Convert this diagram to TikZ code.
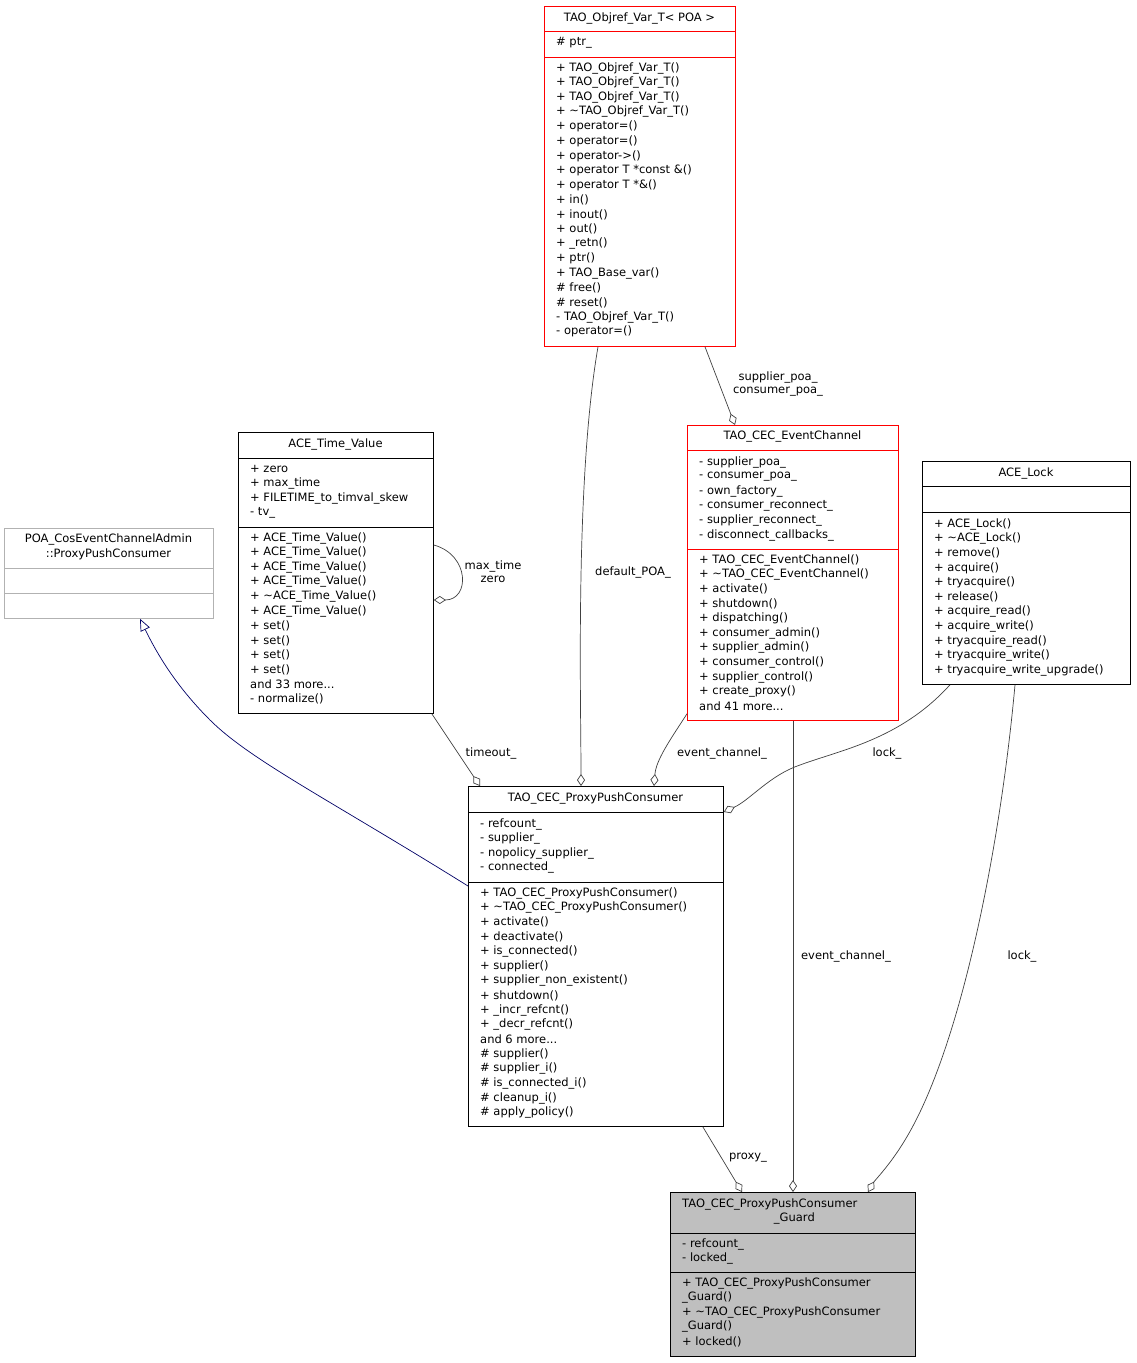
\documentclass[tikz,border=0pt]{standalone}
\usepackage{fontspec}
\setmainfont{DejaVu Sans}
\usetikzlibrary{arrows.meta,calc}
\newcommand\ddd{...}
\begin{document}
\begin{tikzpicture}[x=1pt,y=-1pt,
  txt/.style={anchor=west,inner sep=0,font=\fontsize{11.5}{13}\selectfont},
  ttl/.style={anchor=center,inner sep=0,font=\fontsize{11.5}{13}\selectfont},
  box/.style={draw,inner sep=0,anchor=north west,line width=0.8pt},
  lbl/.style={inner sep=0,font=\fontsize{11.5}{13}\selectfont,align=center},
  agg/.style={draw=black!75,line width=0.7pt,-{Diamond[open,length=12pt,width=8pt]}},
  inh/.style={draw=blue!40!black,line width=0.7pt,-{Triangle[open,length=12pt,width=10pt]}}]
\useasboundingbox (0,0) rectangle (1136,1363);
\newcommand\lns[3]{\foreach \t [count=\i from 0] in {#3} \node[txt] at (#1,#2+\i*14.65) {\t};}

% TAO_Objref_Var_T
\node[box,draw=red,minimum width=191pt,minimum height=340pt] (obj) at (544,6) {};
\draw[red,line width=0.8pt] (544,31)--(735,31) (544,57)--(735,57);
\node[ttl] at (639.5,18) {TAO\_Objref\_Var\_T< POA >};
\lns{556}{43}{\# ptr\_}
\lns{556}{68}{+ TAO\_Objref\_Var\_T(),+ TAO\_Objref\_Var\_T(),+ TAO\_Objref\_Var\_T(),+ \textasciitilde TAO\_Objref\_Var\_T(),+ operator=(),+ operator=(),+ operator->(),+ operator T *const \&(),+ operator T *\&(),+ in(),+ inout(),+ out(),+ \_retn(),+ ptr(),+ TAO\_Base\_var(),\# free(),\# reset(),- TAO\_Objref\_Var\_T(),- operator=()}

% ACE_Time_Value
\node[box,minimum width=195pt,minimum height=281pt] (tv) at (238,432) {};
\draw[line width=0.8pt] (238,458)--(433,458) (238,527)--(433,527);
\node[ttl] at (335.5,444) {ACE\_Time\_Value};
\lns{250}{469}{+ zero,+ max\_time,+ FILETIME\_to\_timval\_skew,- tv\_}
\lns{250}{538}{+ ACE\_Time\_Value(),+ ACE\_Time\_Value(),+ ACE\_Time\_Value(),+ ACE\_Time\_Value(),+ \textasciitilde ACE\_Time\_Value(),+ ACE\_Time\_Value(),+ set(),+ set(),+ set(),+ set(),and 33 more\ddd,- normalize()}

% POA
\node[box,draw=black!30,minimum width=209pt,minimum height=90pt] (poa) at (4,528) {};
\draw[black!30,line width=0.8pt] (4,568)--(213,568) (4,593)--(213,593);
\node[ttl] at (108.5,539) {POA\_CosEventChannelAdmin};
\node[ttl] at (108.5,554) {::ProxyPushConsumer};

% TAO_CEC_EventChannel
\node[box,draw=red,minimum width=211pt,minimum height=295pt] (ec) at (687,425) {};
\draw[red,line width=0.8pt] (687,450)--(898,450) (687,549)--(898,549);
\node[ttl] at (792.5,436) {TAO\_CEC\_EventChannel};
\lns{699}{462}{- supplier\_poa\_,- consumer\_poa\_,- own\_factory\_,- consumer\_reconnect\_,- supplier\_reconnect\_,- disconnect\_callbacks\_}
\lns{699}{560}{+ TAO\_CEC\_EventChannel(),+ \textasciitilde TAO\_CEC\_EventChannel(),+ activate(),+ shutdown(),+ dispatching(),+ consumer\_admin(),+ supplier\_admin(),+ consumer\_control(),+ supplier\_control(),+ create\_proxy(),and 41 more\ddd}

% ACE_Lock
\node[box,minimum width=208pt,minimum height=223pt] (lock) at (922,461) {};
\draw[line width=0.8pt] (922,486)--(1130,486) (922,512)--(1130,512);
\node[ttl] at (1026,473) {ACE\_Lock};
\lns{934}{524}{+ ACE\_Lock(),+ \textasciitilde ACE\_Lock(),+ remove(),+ acquire(),+ tryacquire(),+ release(),+ acquire\_read(),+ acquire\_write(),+ tryacquire\_read(),+ tryacquire\_write(),+ tryacquire\_write\_upgrade()}

% TAO_CEC_ProxyPushConsumer
\node[box,minimum width=255pt,minimum height=340pt] (ppc) at (468,786) {};
\draw[line width=0.8pt] (468,812)--(723,812) (468,882)--(723,882);
\node[ttl] at (595.5,798) {TAO\_CEC\_ProxyPushConsumer};
\lns{480}{824}{- refcount\_,- supplier\_,- nopolicy\_supplier\_,- connected\_}
\lns{480}{893}{+ TAO\_CEC\_ProxyPushConsumer(),+ \textasciitilde TAO\_CEC\_ProxyPushConsumer(),+ activate(),+ deactivate(),+ is\_connected(),+ supplier(),+ supplier\_non\_existent(),+ shutdown(),+ \_incr\_refcnt(),+ \_decr\_refcnt(),and 6 more\ddd,\# supplier(),\# supplier\_i(),\# is\_connected\_i(),\# cleanup\_i(),\# apply\_policy()}

% Guard
\node[box,fill=black!25,minimum width=245pt,minimum height=164pt] (grd) at (670,1192) {};
\draw[line width=0.8pt] (670,1233)--(915,1233) (670,1272)--(915,1272);
\lns{682}{1204}{TAO\_CEC\_ProxyPushConsumer}
\node[txt,anchor=east] at (815,1218) {\_Guard};
\lns{682}{1244}{- refcount\_,- locked\_}
\lns{682}{1283}{+ TAO\_CEC\_ProxyPushConsumer,\_Guard(),+ \textasciitilde TAO\_CEC\_ProxyPushConsumer,\_Guard(),+ locked()}

% edges
\draw[agg] ($(obj.south west)+(54,0)$) .. controls (575,480) and (581,700) .. ($(ppc.north west)+(113,0)$);
\node[lbl] at (633,572) {default\_POA\_};
\draw[agg] ($(obj.south west)+(161,0)$) -- ($(ec.north west)+(48,0)$);
\node[lbl] at (778,384) {supplier\_poa\_\\consumer\_poa\_};
\draw[agg] ($(tv.north east)+(0,113)$) .. controls (470,555) and (470,600) .. ($(tv.north east)+(0,168)$);
\node[lbl] at (493,572) {max\_time\\zero};
\draw[agg] ($(tv.south east)+(-2,0)$) -- ($(ppc.north west)+(12,0)$);
\node[lbl] at (491,753) {timeout\_};
\draw[agg] ($(ec.south west)+(0,-7)$) .. controls (670,740) and (656,760) .. ($(ppc.north west)+(186,0)$);
\node[lbl] at (722,753) {event\_channel\_};
\draw[agg] ($(lock.south west)+(28,0)$) .. controls (900,740) and (840,750) .. (800,765) .. controls (770,775) and (750,800) .. ($(ppc.north east)+(0,26)$);
\node[lbl] at (887,753) {lock\_};
\draw[inh] ($(ppc.north west)+(0,100)$) .. controls (330,800) and (250,760) .. (210,720) .. controls (180,690) and (160,660) .. ($(poa.south west)+(136,0)$);
\draw[agg] ($(ppc.south east)+(-21,0)$) -- ($(grd.north west)+(72,0)$);
\node[lbl] at (748,1158) {proxy\_};
\draw[agg] ($(ec.south west)+(106,0)$) -- ($(grd.north west)+(123,0)$);
\node[lbl] at (846,956) {event\_channel\_};
\draw[agg] ($(lock.south west)+(93,0)$) .. controls (1000,850) and (960,1050) .. (905,1140) .. controls (890,1165) and (875,1180) .. ($(grd.north west)+(198,0)$);
\node[lbl] at (1022,956) {lock\_};
\end{tikzpicture}
\end{document}
